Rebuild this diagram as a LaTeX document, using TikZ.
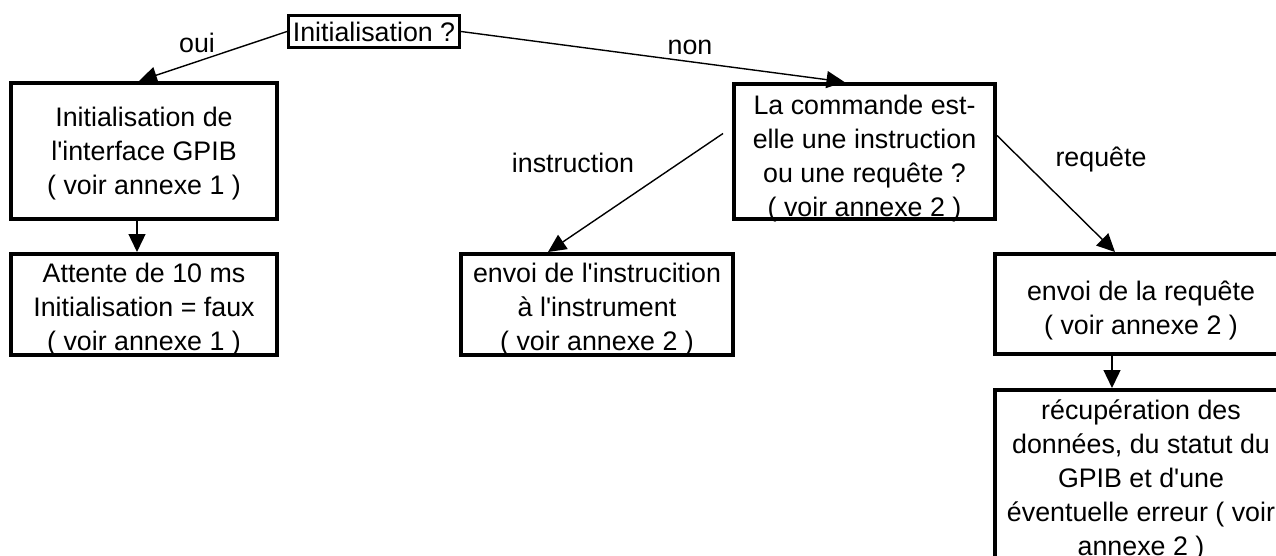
\documentclass[tikz,border=0pt]{standalone}
\usepackage{fontspec}
\newfontfamily\flowfont{Liberation Sans}
\usetikzlibrary{arrows.meta,positioning}

\tikzset{
  box/.style={draw,line width=4pt,minimum width=#1},
  boxtext/.style={align=center,inner sep=0pt},
  tag/.style={anchor=base,inner sep=0pt},
  flow/.style={line width=1.4pt,-{Triangle[length=18pt,width=17pt]}}
}

\begin{document}
\begin{tikzpicture}[x=1pt,y=-1pt,font=\flowfont\fontsize{26.8}{34}\selectfont]
  \useasboundingbox (0,0) rectangle (1276,556);
  \clip (0,0) rectangle (1276,556);
  % Test
  \node[draw,line width=3pt,minimum width=171pt,minimum height=32pt,inner sep=0pt]
    (init) at (374,31.5) {Initialisation ?};
  % Left branch
  \node[box=266pt,minimum height=136pt] (gpib) at (144,151) {};
  \node[boxtext,below=26pt of gpib.north] (gpibtxt)
    {Initialisation de\\l'interface GPIB\\( voir annexe 1 )};
  \node[box=266pt,minimum height=101pt] (wait) at (144,304.5) {};
  \node[boxtext,below=11pt of wait.north] (waittxt)
    {Attente de 10 ms\\Initialisation = faux\\( voir annexe 1 )};
  % Right branch
  \node[box=261pt,minimum height=135pt] (cmd) at (864.5,151.5) {};
  \node[boxtext,below=13pt of cmd.north] (cmdtxt)
    {La commande est-\\elle une instruction\\ou une requête ?\\( voir annexe 2 )};
  \node[box=272pt,minimum height=101pt] (instr) at (597,304.5) {};
  \node[boxtext,below=11pt of instr.north] (instrtxt)
    {envoi de l'instrucition\\à l'instrument\\( voir annexe 2 )};
  \node[box=292pt,minimum height=100pt] (req) at (1141,304) {};
  \node[boxtext,below=29pt of req.north] (reqtxt)
    {envoi de la requête\\( voir annexe 2 )};
  \node[box=292pt,minimum height=198pt] (data) at (1141,489) {};
  \node[boxtext,below=12pt of data.north] (datatxt)
    {récupération des\\données, du statut du\\GPIB et d'une\\éventuelle erreur ( voir\\annexe 2 )};
  % Branch labels
  \node[tag] (oui) at (197,53) {oui};
  \node[tag] (non) at (690,55) {non};
  \node[tag] (isinstr) at (573,173) {instruction};
  \node[tag] (isreq) at (1101,167) {requête};
  % Connectors
  \draw[flow] (init.west) -- ([xshift=-5pt]gpib.north);
  \draw[flow] (init.east) -- ([xshift=-20pt]cmd.north);
  \draw[flow] ([xshift=-7pt]gpib.south) -- ([xshift=-7pt]wait.north);
  \draw[flow] ([shift={(-9pt,18pt)}]cmd.west) -- ([xshift=-49pt]instr.north);
  \draw[flow] ([yshift=16pt]cmd.east) -- ([xshift=-26pt]req.north);
  \draw[flow] ([xshift=-29pt]req.south) -- ([xshift=-29pt]data.north);
\end{tikzpicture}
\end{document}
